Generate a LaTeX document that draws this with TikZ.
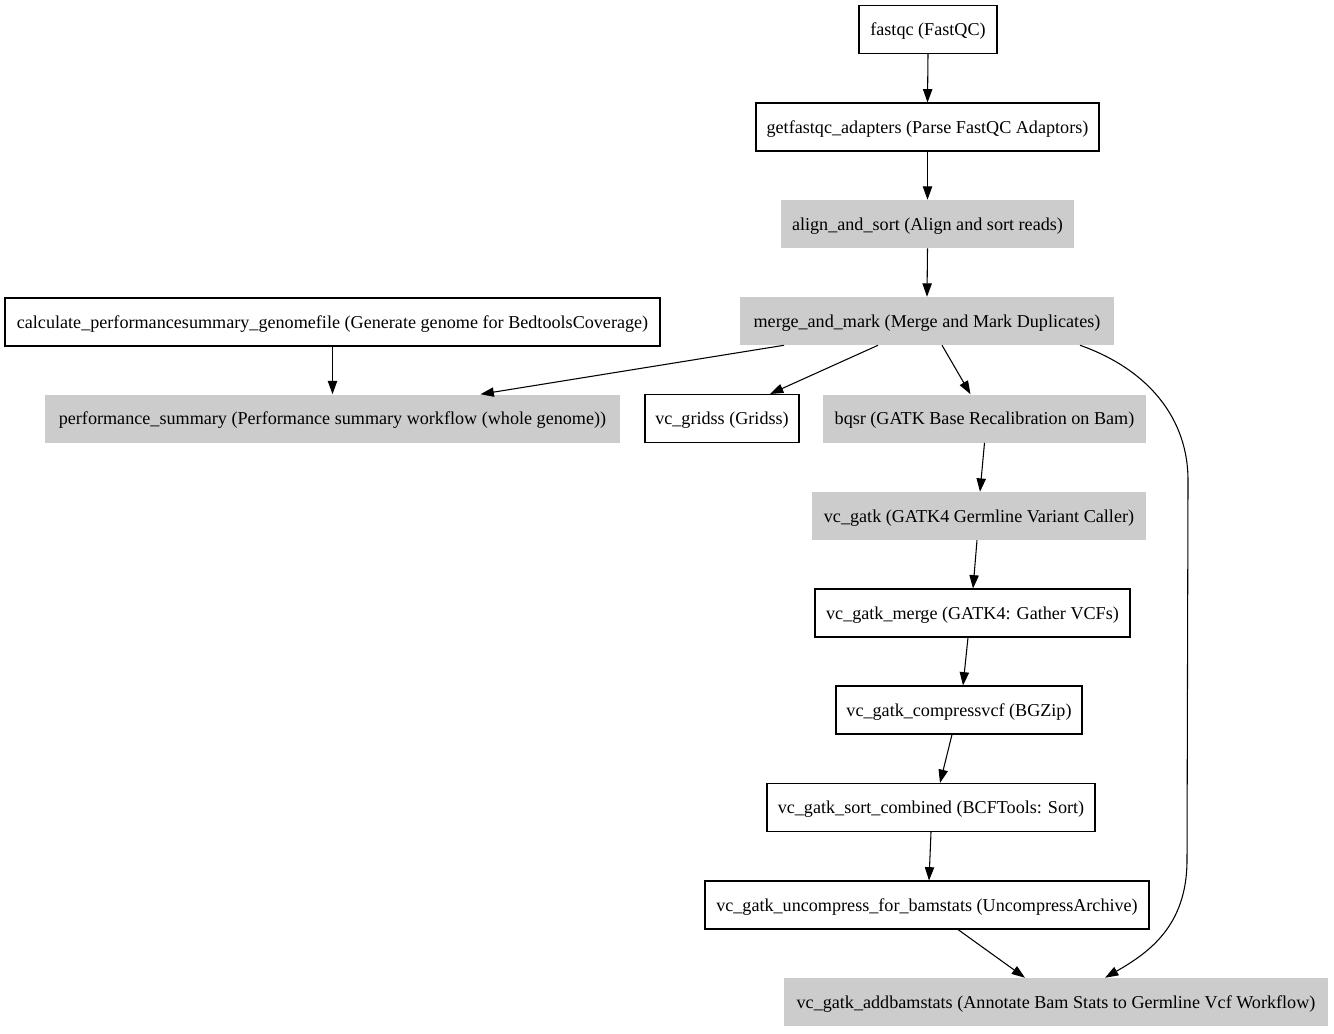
\documentclass[tikz,border=0pt]{standalone}
\usepackage{fontspec}
\setmainfont{Liberation Serif}
\usetikzlibrary{arrows.meta,calc}
\definecolor{boxgray}{HTML}{CCCCCC}
\begin{document}
\begin{tikzpicture}[x=0.75pt,y=-0.75pt,
  every node/.style={font=\fontsize{13.6pt}{16pt}\selectfont, inner xsep=0pt, inner ysep=0pt,
    minimum height=36pt, text height=11.5pt, text depth=2.5pt},
  plainbox/.style={draw=black, line width=0.8pt, fill=white, minimum width=#1*0.75pt},
  graybox/.style={fill=boxgray, minimum width=#1*0.75pt},
  conn/.style={line width=0.8pt, -{Triangle[length=10pt,width=7pt]}}]
\useasboundingbox (0,0) rectangle (1334,1033);
\fill[white] (0,0) rectangle (1334,1033);

\node[plainbox=138] (fastqc) at (928,29.5) {fastqc (FastQC)};
\node[plainbox=343] (getf) at (927.5,127) {getfastqc\_adapters (Parse FastQC Adaptors)};
\node[graybox=293] (align) at (927.5,224) {align\_and\_sort (Align and sort reads)};
\node[graybox=374] (merge) at (927,321) {merge\_and\_mark (Merge and Mark Duplicates)};
\node[plainbox=655] (calc) at (332.5,322) {calculate\_performancesummary\_genomefile (Generate genome for BedtoolsCoverage)};
\node[graybox=575] (perf) at (332.5,418.5) {performance\_summary (Performance summary workflow (whole genome))};
\node[plainbox=154] (gridss) at (722,418.5) {vc\_gridss (Gridss)};
\node[graybox=323] (bqsr) at (984.5,418.5) {bqsr (GATK Base Recalibration on Bam)};
\node[graybox=334] (vcgatk) at (979,516) {vc\_gatk (GATK4 Germline Variant Caller)};
\node[plainbox=315] (vcmerge) at (972.5,613) {vc\_gatk\_merge (GATK4: Gather VCFs)};
\node[plainbox=246] (compress) at (959,710) {vc\_gatk\_compressvcf (BGZip)};
\node[plainbox=328] (sort) at (931,807.5) {vc\_gatk\_sort\_combined (BCFTools: Sort)};
\node[plainbox=444] (uncomp) at (927,905) {vc\_gatk\_uncompress\_for\_bamstats (UncompressArchive)};
\node[graybox=544] (addbam) at (1056,1002) {vc\_gatk\_addbamstats (Annotate Bam Stats to Germline Vcf Workflow)};

\draw[conn] (fastqc.south) -- (getf.north);
\draw[conn] (getf.south) -- (align.north);
\draw[conn] (align.south) -- (merge.north);
\draw[conn] (calc.south) -- (perf.north);
\draw[conn] ($(merge.south)+(-143,0)$) -- ($(perf.north)+(148,0)$);
\draw[conn] ($(merge.south)+(-49,0)$) -- ($(gridss.north)+(48,0)$);
\draw[conn] ($(merge.south)+(15,0)$) -- ($(bqsr.north)+(-14,0)$);
\draw[conn] ($(merge.south)+(153,0)$) .. controls (1150,370) and (1188,420) .. (1188,480)
  -- (1187,860) .. controls (1187,925) and (1150,952) .. ($(addbam.north)+(49,0)$);
\draw[conn] (bqsr.south) -- ($(vcgatk.north)+(1,0)$);
\draw[conn] ($(vcgatk.south)+(-2,0)$) -- ($(vcmerge.north)+(0.5,0)$);
\draw[conn] ($(vcmerge.south)+(-4.5,0)$) -- ($(compress.north)+(4,0)$);
\draw[conn] ($(compress.south)+(-7,0)$) -- ($(sort.north)+(9,0)$);
\draw[conn] (sort.south) -- ($(uncomp.north)+(2,0)$);
\draw[conn] ($(uncomp.south)+(31,0)$) -- ($(addbam.north)+(-31,0)$);
\end{tikzpicture}
\end{document}
